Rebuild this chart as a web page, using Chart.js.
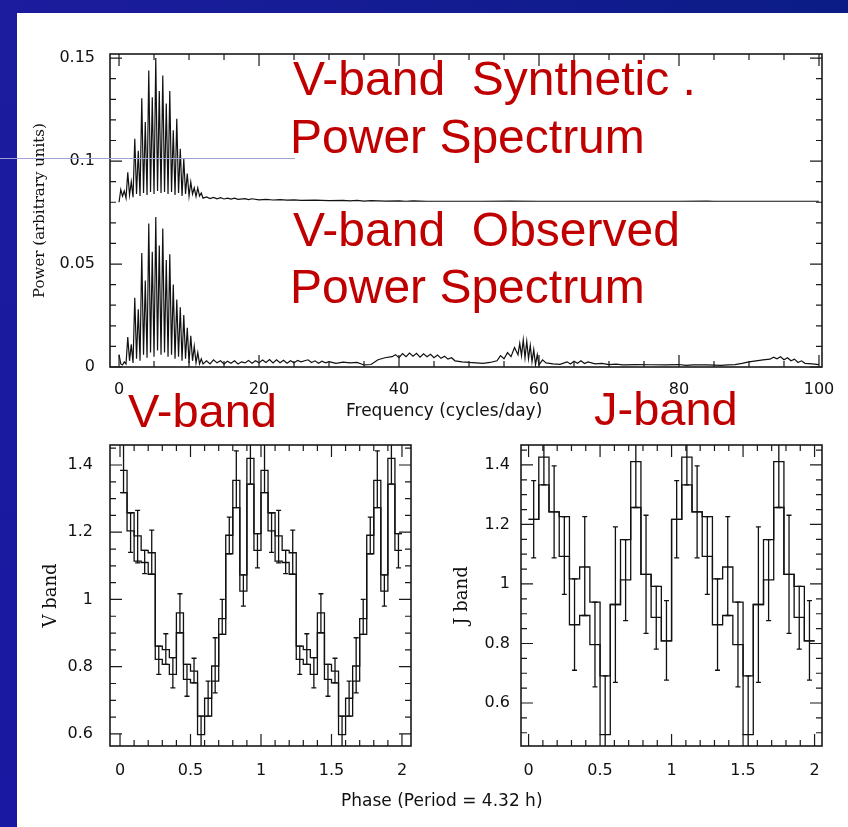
<!DOCTYPE html>
<html>
<head>
<meta charset="utf-8">
<script src="https://cdn.jsdelivr.net/npm/chart.js@4.4.1/dist/chart.umd.min.js"></script>
<style>
body { margin:0; width:848px; height:827px; background:#fff; position:relative; overflow:hidden; }
#topbar { position:absolute; left:0; top:0; width:848px; height:13px; background:linear-gradient(90deg,#1c1c9e,#0b1c86); z-index:3; }
#leftbar { position:absolute; left:0; top:0; width:17px; height:827px; background:linear-gradient(180deg,#1c1c9e,#1818a2); z-index:3; }
#rule { position:absolute; left:0; top:158px; width:295px; height:1px; background:#a0a0d4; z-index:4; }
canvas { position:absolute; }
.red { position:absolute; color:#c00000; font-family:"Liberation Sans", Arial, sans-serif; font-size:47px; line-height:47px; white-space:pre; z-index:5; }
.big { font-size:48px; }
.lab { position:absolute; font-family:"DejaVu Sans", sans-serif; font-size:17px; line-height:18px; color:#111; white-space:pre; z-index:5; }
</style>
</head>
<body>
<div id="topbar"></div>
<div id="leftbar"></div>
<canvas id="spec" width="828" height="380" style="left:20px;top:44px"></canvas>
<canvas id="vband" width="400" height="380" style="left:20px;top:435px"></canvas>
<canvas id="jband" width="400" height="380" style="left:430px;top:435px"></canvas>
<div id="rule"></div>

<div class="red big" style="left:293px;top:55px">V-band  Synthetic .</div>
<div class="red big" style="left:290px;top:113px">Power Spectrum</div>
<div class="red big" style="left:293px;top:206px">V-band  Observed</div>
<div class="red big" style="left:290px;top:263px">Power Spectrum</div>
<div class="red" style="left:128px;top:387px">V-band</div>
<div class="red" style="left:594px;top:385px">J-band</div>
<div class="lab" style="left:346px;top:401px">Frequency (cycles/day)</div>
<div class="lab" style="left:341px;top:791px">Phase (Period = 4.32 h)</div>

<script>
// ---- power spectra (synthetic already shifted up by 0.08 as in the plot) ----
const synFreq = [0,0.25,0.5,0.75,1,1.25,1.5,1.75,2,2.25,2.5,2.75,3,3.25,3.5,3.75,4,4.25,4.5,4.75,5,5.25,5.5,5.75,6,6.25,6.5,6.75,7,7.25,7.5,7.75,8,8.25,8.5,8.75,9,9.25,9.5,9.75,10,10.25,10.5,10.75,11,11.25,11.5,11.75,12,
  12.5,13,13.5,14,14.5,15,15.5,16,16.5,17,18,18.5,19,20,21,22,23,24,25,26,28,30,32,33,34,35,36,38,40,41,42,44,48,52,56,60,70,80,84,85,90,100]
const synPower = [0.0800,0.0862,0.0830,0.0855,0.0820,0.0945,0.0835,0.0900,0.0825,0.1108,0.0840,0.1050,0.0830,0.1305,0.0845,0.1190,0.0835,0.1440,0.0850,0.1310,0.0840,0.1500,0.0855,0.1340,0.0845,0.1415,0.0850,0.1280,0.0840,0.1340,0.0850,0.1150,0.0835,0.1205,0.0845,0.1060,0.0830,0.1010,0.0840,0.0940,0.0830,0.0898,0.0840,0.0870,0.0828,0.0870,0.0830,0.0845,0.0820,
  0.0826,0.0818,0.0824,0.0817,0.0822,0.0816,0.0820,0.0815,0.0820,0.0814,0.0818,0.0813,0.0817,0.0812,0.0814,0.0811,0.0813,0.0810,0.0812,0.0809,0.0810,0.0808,0.0809,0.0807,0.0809,0.0806,0.0808,0.0806,0.0807,0.0805,0.0807,0.0805,0.0805,0.0805,0.0806,0.0805,0.0805,0.0805,0.0806,0.0805,0.0805,0.0805]

const obsFreq = [0,0.25,0.5,0.75,1,1.25,1.5,1.75,2,2.25,2.5,2.75,3,3.25,3.5,3.75,4,4.25,4.5,4.75,5,5.25,5.5,5.75,6,6.25,6.5,6.75,7,7.25,7.5,7.75,8,8.25,8.5,8.75,9,9.25,9.5,9.75,10,10.25,10.5,10.75,11,11.25,11.5,11.75,12,
  12.5,13,13.5,14,14.5,15,15.5,16,16.5,17,17.5,18,18.5,19,19.5,20,20.5,21,21.5,22,22.5,23,23.5,24,24.5,25,25.5,26,27,27.5,28,28.5,29,29.5,30,31,32,33,34,35,36,37,38,39,39.5,40,40.5,41,41.5,42,42.5,43,43.5,44,44.5,45,45.5,46,46.5,47,47.5,48,49,50,51,52,53,54,54.5,55,55.5,56,56.5,57,57.25,57.5,57.75,58,58.25,58.5,58.75,59,59.25,59.5,59.75,60,60.5,61,62,63,64,64.5,65,65.5,66,66.5,67,68,69,70,71,72,74,76,78,80,81,82,84,86,87,88,89,90,91,92,93,93.5,94,94.5,95,95.5,96,96.5,97,97.5,98,99,100]
const obsPower = [0.0060,0.0015,0.0010,0.0025,0.0015,0.0145,0.0030,0.0110,0.0020,0.0336,0.0040,0.0280,0.0030,0.0553,0.0060,0.0420,0.0045,0.0697,0.0070,0.0560,0.0050,0.0729,0.0080,0.0590,0.0060,0.0672,0.0070,0.0520,0.0050,0.0547,0.0060,0.0400,0.0040,0.0328,0.0050,0.0290,0.0030,0.0252,0.0040,0.0190,0.0020,0.0152,0.0030,0.0100,0.0020,0.0070,0.0015,0.0040,0.0015,
  0.0030,0.0015,0.0035,0.0020,0.0030,0.0015,0.0028,0.0018,0.0030,0.0015,0.0025,0.0020,0.0032,0.0018,0.0030,0.0020,0.0034,0.0022,0.0036,0.0020,0.0035,0.0021,0.0033,0.0018,0.0030,0.0020,0.0032,0.0025,0.0035,0.0022,0.0030,0.0018,0.0028,0.0020,0.0026,0.0018,0.0024,0.0020,0.0022,0.0010,0.0012,0.0035,0.0045,0.0050,0.0060,0.0045,0.0065,0.0050,0.0068,0.0052,0.0066,0.0048,0.0064,0.0050,0.0062,0.0045,0.0058,0.0042,0.0052,0.0038,0.0045,0.0030,0.0025,0.0022,0.0020,0.0018,0.0022,0.0030,0.0055,0.0040,0.0070,0.0050,0.0095,0.0060,0.0115,0.0055,0.0132,0.0045,0.0125,0.0040,0.0105,0.0025,0.0085,0.0010,0.0060,0.0010,0.0035,0.0020,0.0015,0.0013,0.0025,0.0015,0.0028,0.0018,0.0030,0.0017,0.0025,0.0015,0.0018,0.0012,0.0014,0.0010,0.0012,0.0011,0.0010,0.0012,0.0008,0.0010,0.0010,0.0008,0.0010,0.0012,0.0018,0.0025,0.0030,0.0035,0.0038,0.0048,0.0040,0.0050,0.0035,0.0045,0.0030,0.0038,0.0022,0.0030,0.0018,0.0015,0.0012]

const freqTicks = [0, 20, 40, 60, 80, 100]
const powerTicks = [0, 0.05, 0.1, 0.15]

// ---- folded light curves: one period of bins, plotted twice ----
const vPhase = [0,0.05,0.1,0.15,0.2,0.25,0.3,0.35,0.4,0.45,0.5,0.55,0.6,0.65,0.7,0.75,0.8,0.85,0.9,0.95]
const vWidth = 0.05
const vHi = [1.384,1.258,1.189,1.146,1.139,0.861,0.851,0.827,0.960,0.807,0.787,0.653,0.706,0.802,0.943,1.191,1.354,1.073,1.420,1.196]
const vLo = [1.318,1.204,1.114,1.110,1.075,0.822,0.807,0.777,0.901,0.762,0.752,0.598,0.653,0.757,0.896,1.136,1.273,1.025,1.343,1.146]
const vErrHi = [1.500,1.258,1.265,1.146,1.206,0.861,0.898,0.827,1.017,0.807,0.825,0.653,0.757,0.886,1.000,1.245,1.442,1.073,1.500,1.196]
const vErrLo = [1.318,1.140,1.109,1.077,1.075,0.777,0.807,0.737,0.901,0.712,0.752,0.550,0.653,0.722,0.896,1.136,1.273,0.980,1.343,1.094]

const jPhase = [0,0.0714,0.1429,0.2143,0.2857,0.3571,0.4286,0.5,0.5714,0.6429,0.7143,0.7857,0.8571,0.9286]
const jWidth = 0.0714
const jHi = [1.217,1.426,1.242,1.226,1.017,1.057,0.939,0.691,0.931,1.149,1.411,1.032,0.992,0.809]
const jLo = [1.217,1.333,1.242,1.093,0.863,0.894,0.796,0.494,0.931,1.014,1.257,1.032,0.888,0.809]
const jErrHi = [1.347,1.500,1.397,1.226,1.017,1.226,0.939,0.691,1.192,1.149,1.500,1.231,0.992,0.944]
const jErrLo = [1.088,1.333,1.088,0.965,0.710,0.894,0.654,0.400,0.669,0.877,1.257,0.834,0.781,0.677]

const phaseTicks = [0, 0.5, 1, 1.5, 2]
const vTicks = [0.6, 0.8, 1, 1.2, 1.4]
const jTicks = [0.6, 0.8, 1, 1.2, 1.4]

function range(a, b, step) { const r = []; for (let v = a; v <= b + 1e-9; v += step) r.push(+v.toFixed(4)); return r }
function pts(xs, ys) { return xs.map((x, i) => ({x: x, y: ys[i]})) }
// two copies of the period, plus a closing point so the last bin gets its step
function stairs(phase, vals) {
  const out = [];
  [0, 1].forEach(c => phase.forEach((p, i) => out.push({x: p + c, y: vals[i]})));
  out.push({x: 2, y: vals[vals.length - 1]});
  return out
}
function bars(phase, width, lo, hi) {
  const out = [];
  [0, 1].forEach(c => phase.forEach((p, i) => out.push({x: p + c + width / 2, lo: lo[i], hi: hi[i]})));
  return out
}
// fixed axis boxes so the plot frames land where they should
function fixW(w) { return s => { s.width = w; s.paddingTop = 0; s.paddingBottom = 0 } }
function fixH(h) { return s => { s.height = h; s.paddingLeft = 0; s.paddingRight = 0 } }

// inward ticks on all four sides + the box
const frameTicks = {
  id: 'frameTicks',
  afterDatasetsDraw(chart, args, o) {
    const {ctx, chartArea: a, scales: {x, y}} = chart;
    ctx.save();
    ctx.strokeStyle = '#1a1a1a';
    ctx.lineWidth = 1.2;
    ctx.beginPath();
    const xt = (v, len) => { const p = x.getPixelForValue(v); ctx.moveTo(p, a.bottom); ctx.lineTo(p, a.bottom - len); ctx.moveTo(p, a.top); ctx.lineTo(p, a.top + len) };
    const yt = (v, len) => { const p = y.getPixelForValue(v); ctx.moveTo(a.left, p); ctx.lineTo(a.left + len, p); ctx.moveTo(a.right, p); ctx.lineTo(a.right - len, p) };
    x.ticks.forEach(t => xt(t.value, o.major));
    (o.xMinor || []).forEach(v => xt(v, o.minor));
    y.ticks.forEach(t => yt(t.value, o.major));
    (o.yMinor || []).forEach(v => yt(v, o.minor));
    ctx.stroke();
    ctx.lineWidth = 1.6;
    ctx.strokeRect(a.left, a.top, a.width, a.height);
    ctx.restore();
  }
};

const errBars = {
  id: 'errBars',
  afterDatasetsDraw(chart, args, o) {
    if (!o.bars) return;
    const {ctx, chartArea: a, scales: {x, y}} = chart;
    ctx.save();
    ctx.beginPath(); ctx.rect(a.left, a.top, a.width, a.height); ctx.clip();
    ctx.strokeStyle = '#111';
    ctx.lineWidth = 1.3;
    ctx.beginPath();
    o.bars.forEach(b => {
      const px = x.getPixelForValue(b.x), p1 = y.getPixelForValue(b.lo), p2 = y.getPixelForValue(b.hi);
      ctx.moveTo(px, p1); ctx.lineTo(px, p2);
      ctx.moveTo(px - o.cap, p1); ctx.lineTo(px + o.cap, p1);
      ctx.moveTo(px - o.cap, p2); ctx.lineTo(px + o.cap, p2);
    });
    ctx.stroke();
    ctx.restore();
  }
};

Chart.register(frameTicks, errBars);

const tickFont = {family: 'DejaVu Sans', size: 16};
const noGrid = {display: false, drawTicks: false};

const specChart = new Chart(document.getElementById('spec'), {
  type: 'line',
  data: {
    datasets: [
      {label: 'Synthetic', data: pts(synFreq, synPower)},
      {label: 'Observed', data: pts(obsFreq, obsPower)}
    ]
  },
  options: {
    responsive: false, animation: false, devicePixelRatio: 1,
    layout: {padding: {left: 0, top: 10, right: 26, bottom: 0}},
    elements: {point: {radius: 0}, line: {borderWidth: 1.2, borderColor: '#111', tension: 0}},
    plugins: {
      legend: {display: false}, tooltip: {enabled: false},
      frameTicks: {major: 12, minor: 6, xMinor: range(5, 95, 5).filter(v => v % 20), yMinor: range(1, 14, 1).filter(k => k % 5).map(k => k / 100)}
    },
    scales: {
      x: {
        type: 'linear', min: -1.29, max: 100.43, grid: noGrid, border: {display: false},
        afterBuildTicks: s => { s.ticks = freqTicks.map(v => ({value: v})) },
        afterFit: fixH(57),
        ticks: {font: tickFont, color: '#111', padding: 13, maxRotation: 0, autoSkip: false, callback: v => String(v)}
      },
      y: {
        min: 0, max: 0.152, grid: noGrid, border: {display: false},
        afterBuildTicks: s => { s.ticks = powerTicks.map(v => ({value: v})) },
        afterFit: fixW(90),
        ticks: {font: tickFont, color: '#111', padding: 15, callback: v => String(v)},
        title: {display: true, text: 'Power (arbitrary units)', font: {family: 'DejaVu Serif', size: 15}, color: '#111', padding: {top: 11, bottom: 0}}
      }
    }
  }
});

function phaseChart(id, hi, lo, errLo, errHi, phase, width, yMin, yMax, yTicks, yMinor, title, yPad, titlePad) {
  const isV = id == 'vband';
  return new Chart(document.getElementById(id), {
    type: 'line',
    data: {
      datasets: [
        {label: 'upper', data: stairs(phase, hi), stepped: 'before'},
        {label: 'lower', data: stairs(phase, lo), stepped: 'before'}
      ]
    },
    options: {
      responsive: false, animation: false, devicePixelRatio: 1,
      layout: {padding: {left: 0, top: 10, right: isV ? 9 : 8, bottom: 0}},
      elements: {point: {radius: 0}, line: {borderWidth: 1.3, borderColor: '#111', tension: 0}},
      plugins: {
        legend: {display: false}, tooltip: {enabled: false},
        frameTicks: {major: 12, minor: 6, xMinor: range(1, 20, 1).filter(k => k % 5).map(k => k / 10), yMinor: yMinor},
        errBars: {cap: 2.5, bars: bars(phase, width, errLo, errHi)}
      },
      scales: {
        x: {
          type: 'linear', min: isV ? -0.071 : -0.053, max: isV ? 2.064 : 2.052, grid: noGrid, border: {display: false},
          afterBuildTicks: s => { s.ticks = phaseTicks.map(v => ({value: v})) },
          afterFit: fixH(69),
          ticks: {font: tickFont, color: '#111', padding: 15, maxRotation: 0, autoSkip: false, callback: v => String(v)}
        },
        y: {
          min: yMin, max: yMax, grid: noGrid, border: {display: false},
          afterBuildTicks: s => { s.ticks = yTicks.map(v => ({value: v})) },
          afterFit: fixW(isV ? 90 : 91),
          ticks: {font: tickFont, color: '#111', padding: yPad, callback: v => String(v)},
          title: {display: true, text: title, font: {family: 'DejaVu Serif', size: 18}, color: '#111', padding: {top: titlePad, bottom: 0}}
        }
      }
    }
  });
}

const vChart = phaseChart('vband', vHi, vLo, vErrLo, vErrHi, vPhase, vWidth, 0.564, 1.4595, vTicks,
  [13,14,15,17,18,19,21,22,23,25,26,27,29].map(k => k / 20), 'V band', 17, 21);
const jChart = phaseChart('jband', jHi, jLo, jErrLo, jErrHi, jPhase, jWidth, 0.4555, 1.467, jTicks,
  [10,11,13,14,15,17,18,19,21,22,23,25,26,27,29].map(k => k / 20), 'J band', 11, 22);
</script>
</body>
</html>
